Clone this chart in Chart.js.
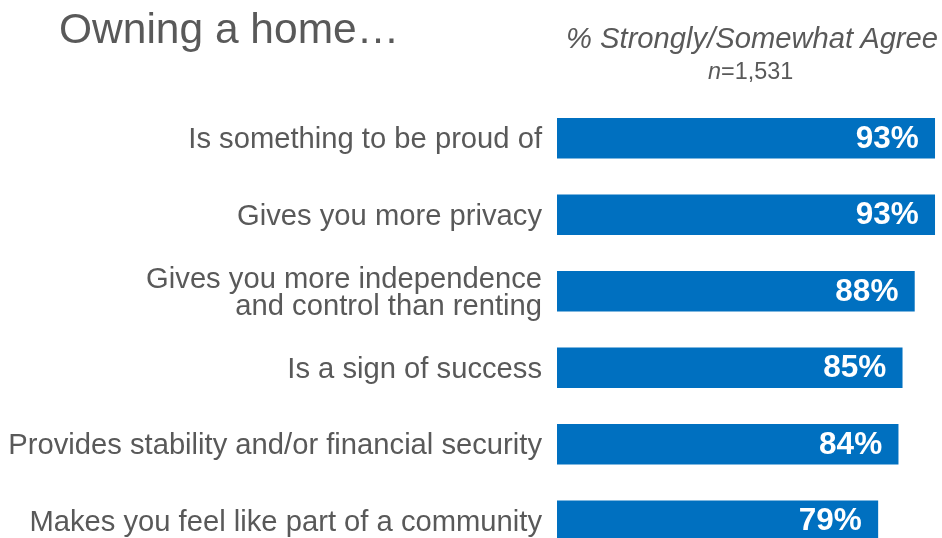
<!DOCTYPE html>
<html>
<head>
<meta charset="utf-8">
<script src="https://cdn.jsdelivr.net/npm/chart.js@4/dist/chart.umd.min.js"></script>
<style>
  body { margin: 0; overflow: hidden; background: #fff; font-family: "Liberation Sans", Arial, sans-serif; }
  #wrap { position: relative; width: 942px; height: 600px; }
  #title { position: absolute; left: 59px; top: 5px; font-size: 42.5px; color: #595959; white-space: nowrap; }
  #sub { position: absolute; left: 566px; top: 22px; font-size: 29.2px; font-style: italic; color: #595959; white-space: nowrap; }
  #n { position: absolute; left: 708px; top: 58px; font-size: 23.4px; color: #595959; white-space: nowrap; }
</style>
</head>
<body>
<div id="wrap">
  <canvas id="chart" width="942" height="600"></canvas>
  <div id="title">Owning a home…</div>
  <div id="sub">% Strongly/Somewhat Agree</div>
  <div id="n"><i>n</i>=1,531</div>
</div>
<script>
const kategori = [
    'Is something to be proud of',
    'Gives you more privacy',
    ['Gives you more independence', 'and control than renting'],
    'Is a sign of success',
    'Provides stability and/or financial security',
    'Makes you feel like part of a community'
];
const persen = [93, 93, 88, 85, 84, 79];

const abu = '#595959';
const biru = '#0070C0';

// label nilai di ujung kanan batang
const labelNilai = {
    id: 'labelNilai',
    afterDatasetsDraw(chart) {
        const ctx = chart.ctx;
        const meta = chart.getDatasetMeta(0);
        ctx.save();
        ctx.fillStyle = '#fff';
        ctx.font = 'bold 31.5px "Liberation Sans", Arial, sans-serif';
        ctx.textAlign = 'right';
        ctx.textBaseline = 'middle';
        meta.data.forEach((bar, i) => {
            ctx.fillText(persen[i] + '%', bar.x - 16, bar.y + 1);
        });
        ctx.restore();
    }
};

const ctx = document.getElementById('chart').getContext('2d');
new Chart(ctx, {
    type: 'bar',
    data: {
        labels: kategori,
        datasets: [{ data: persen, backgroundColor: biru, barThickness: 40 }]
    },
    options: {
        indexAxis: 'y',
        responsive: false,
        animation: false,
        layout: { padding: { top: 100, bottom: 41, left: 0, right: 0 } },
        plugins: { legend: { display: false }, tooltip: { enabled: false } },
        scales: {
            x: { display: false, min: 0, max: 94.8 },
            y: {
                afterFit(scale) { scale.width = 557; },
                grid: { display: false, drawTicks: false },
                border: { display: false },
                ticks: {
                    color: abu,
                    padding: 15,
                    labelOffset: 2,
                    autoSkip: false,
                    font: { family: '"Liberation Sans", Arial, sans-serif', size: 29.2, lineHeight: 0.93 }
                }
            }
        }
    },
    plugins: [labelNilai]
});
</script>
</body>
</html>
